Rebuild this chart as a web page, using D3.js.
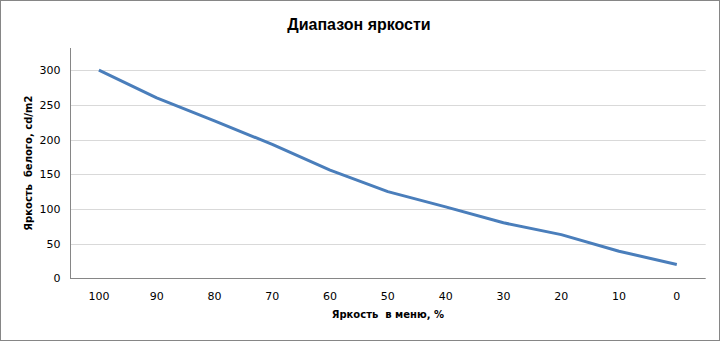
<!DOCTYPE html>
<html>
<head>
<meta charset="utf-8">
<script src="https://cdn.jsdelivr.net/npm/d3@7"></script>
<style>
  body { margin: 0; background: #fff; }
  svg { display: block; }
</style>
</head>
<body>
<svg id="chart" width="720" height="341"></svg>
<script>
// menu brightness setting, % (left to right as shown)
const categories = ['100', '90', '80', '70', '60', '50', '40', '30', '20', '10', '0'];
// white luminance, cd/m2
const luminance = [300, 260, 227, 193, 156, 125, 103, 80, 63, 39, 20];
const yTicks = [0, 50, 100, 150, 200, 250, 300];

const width = 720;
const height = 341;
const margin = { top: 48, right: 14.3, bottom: 62.7, left: 70 };

const svg = d3.select('#chart');

// outer chart border
svg.append('rect')
  .attr('x', 0.5).attr('y', 0.5)
  .attr('width', width - 1).attr('height', height - 1)
  .attr('fill', '#fff')
  .attr('stroke', '#868686');

const x = d3.scaleBand()
  .domain(categories)
  .range([margin.left, width - margin.right])
  .paddingInner(0).paddingOuter(0);

const y = d3.scaleLinear()
  .domain([0, 332])
  .range([height - margin.bottom, margin.top]);

// horizontal gridlines
svg.append('g')
  .selectAll('line')
  .data(yTicks.filter(d => d > 0))
  .join('line')
  .attr('x1', margin.left)
  .attr('x2', width - margin.right)
  .attr('y1', d => Math.round(y(d)) + 0.5)
  .attr('y2', d => Math.round(y(d)) + 0.5)
  .attr('stroke', '#d9d9d9');

// y axis
const yAxis = svg.append('g')
  .attr('transform', `translate(${margin.left + 0.5},0)`)
  .call(d3.axisLeft(y).tickValues(yTicks).tickSize(0).tickPadding(10));
yAxis.select('.domain').remove();
yAxis.selectAll('text')
  .attr('font-family', '"DejaVu Sans", Verdana, sans-serif')
  .attr('font-size', 11)
  .attr('fill', '#000');
svg.append('line')
  .attr('x1', margin.left + 0.5).attr('x2', margin.left + 0.5)
  .attr('y1', margin.top).attr('y2', height - margin.bottom)
  .attr('stroke', '#868686');

// x axis
const xAxis = svg.append('g')
  .attr('transform', `translate(0,${height - margin.bottom})`)
  .call(d3.axisBottom(x).tickSize(0).tickPadding(14));
xAxis.select('.domain').remove();
xAxis.selectAll('text')
  .attr('font-family', '"DejaVu Sans", Verdana, sans-serif')
  .attr('font-size', 11)
  .attr('fill', '#000');
svg.append('line')
  .attr('x1', margin.left).attr('x2', width - margin.right)
  .attr('y1', Math.round(y(0)) + 0.5).attr('y2', Math.round(y(0)) + 0.5)
  .attr('stroke', '#868686');

// the series line
const line = d3.line()
  .x((d, i) => x(categories[i]) + x.bandwidth() / 2)
  .y(d => y(d));

svg.append('path')
  .datum(luminance)
  .attr('d', line)
  .attr('fill', 'none')
  .attr('stroke', '#4a7ebb')
  .attr('stroke-width', 3)
  .attr('stroke-linejoin', 'round');

// titles
svg.append('text')
  .attr('x', 359).attr('y', 30)
  .attr('text-anchor', 'middle')
  .attr('font-family', '"Liberation Sans", Arial, sans-serif')
  .attr('font-weight', 'bold')
  .attr('font-size', 16)
  .text('Диапазон яркости');

svg.append('text')
  .attr('x', (margin.left + width - margin.right) / 2).attr('y', 318)
  .attr('text-anchor', 'middle')
  .attr('font-family', '"DejaVu Sans", Verdana, sans-serif')
  .attr('font-weight', 'bold')
  .attr('font-size', 10)
  .attr('xml:space', 'preserve')
  .style('white-space', 'pre')
  .text('Яркость  в меню, %');

svg.append('text')
  .attr('transform', `translate(32,${(margin.top + height - margin.bottom) / 2}) rotate(-90)`)
  .attr('text-anchor', 'middle')
  .attr('font-family', '"DejaVu Sans", Verdana, sans-serif')
  .attr('font-weight', 'bold')
  .attr('font-size', 10)
  .style('white-space', 'pre')
  .text('Яркость  белого, cd/m2');
</script>
</body>
</html>
